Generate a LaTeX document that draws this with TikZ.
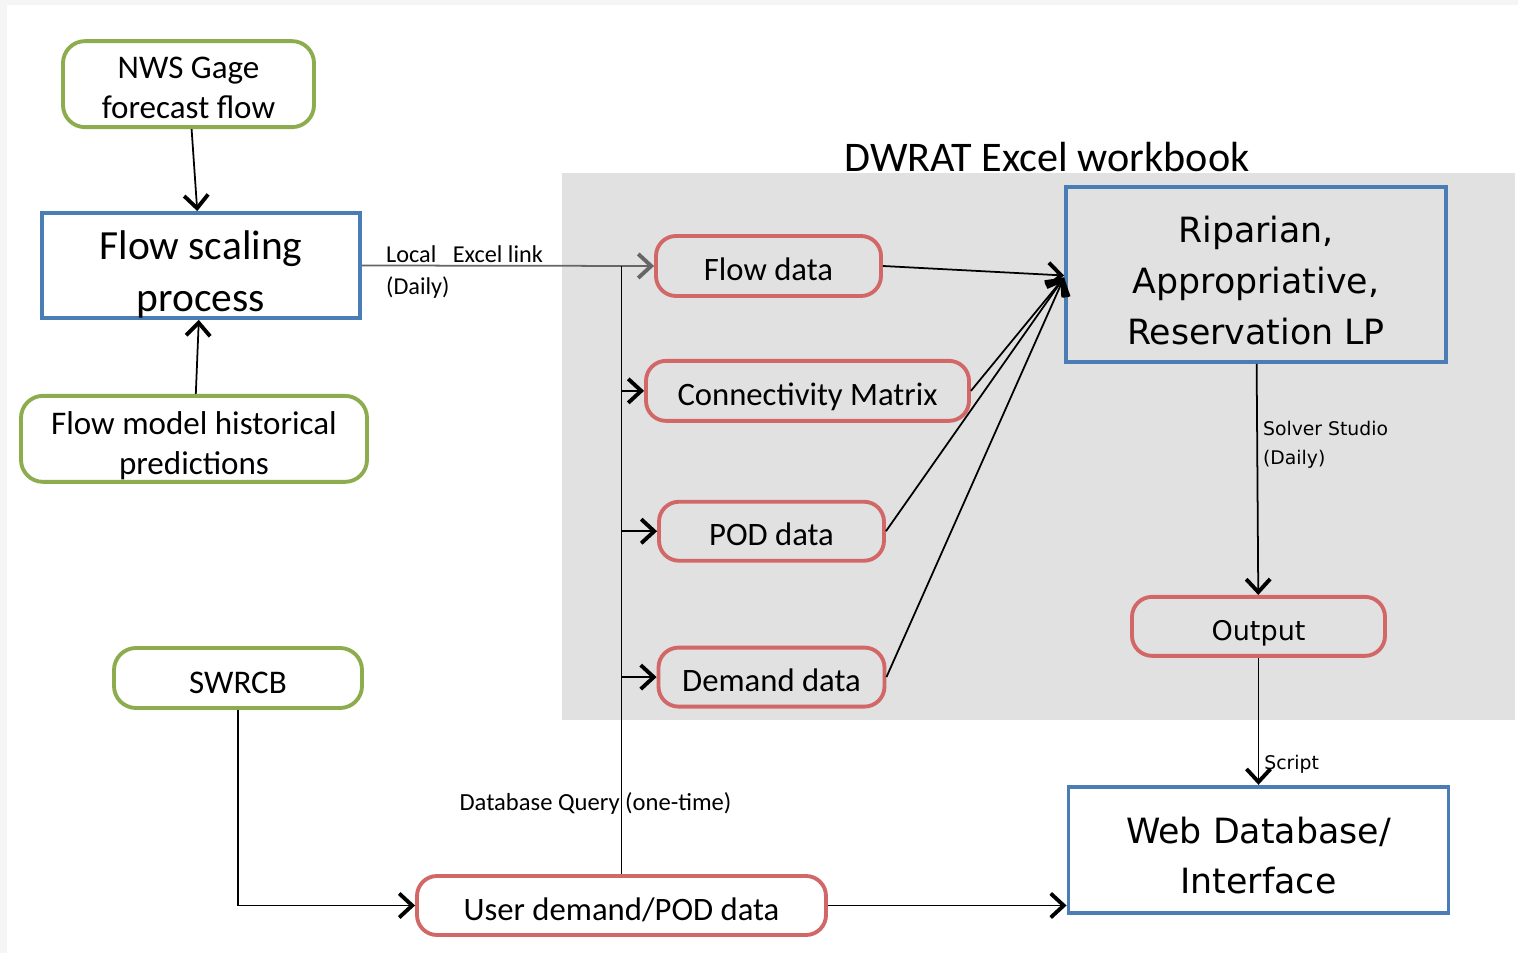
\documentclass[tikz,border=0pt]{standalone}
\usepackage{fontspec}
\setmainfont{Carlito}
\newfontfamily\widefont{DejaVu Sans}
\usetikzlibrary{positioning,calc,arrows.meta}
\definecolor{srcgreen}{HTML}{8CAC4E}
\definecolor{procblue}{HTML}{4A7CB5}
\definecolor{datared}{HTML}{D26767}
\definecolor{wbgray}{HTML}{E1E1E1}
\newcommand{\fsz}[2]{\fontsize{#1}{#2}\selectfont}

\begin{document}
\begin{tikzpicture}[>={Straight Barb[length=1.3mm,width=2.4mm,line width=1.1pt]},
  src/.style={draw=srcgreen,line width=1.1pt,rounded corners=2.2mm,fill=white,align=center,inner sep=0pt},
  proc/.style={draw=procblue,line width=1.1pt,fill=white,align=center,inner sep=0pt},
  data/.style={draw=datared,line width=1.1pt,rounded corners=2mm,fill=wbgray,align=center,inner sep=0pt,text height=8.3pt,text depth=0pt},
  link/.style={->,line width=0.5pt},
  small/.style={font=\fsz{6.9}{8.5},inner sep=0pt,align=left}]

  % page and workbook area
  \fill[gray!8] (0,0) rectangle (15.18,-9.53);
  \fill[white] (0.07,-0.05) rectangle (15.18,-9.53);
  \useasboundingbox (0,0) rectangle (15.18,-9.53);
  \fill[wbgray] (5.62,-1.73) rectangle (15.15,-7.20);
  \node[font=\fsz{12}{14}] (title) at (10.47,-1.57) {DWRAT Excel workbook};

  % left column
  \node[proc,minimum width=3.18cm,minimum height=1.05cm,font=\fsz{11.8}{14.8},text height=26pt,text depth=0pt] (fs) at (2.01,-2.655) {Flow scaling\\process};
  \node[src,minimum width=2.51cm,minimum height=0.86cm,font=\fsz{9.4}{11.4},text height=19.7pt,text depth=0pt,above=0.82cm of fs,xshift=-0.125cm] (nws) {NWS Gage\\forecast flow};
  \node[src,minimum width=3.46cm,minimum height=0.86cm,font=\fsz{9.4}{11.4},text height=20.2pt,text depth=0pt,below=0.74cm of fs,xshift=-0.07cm] (hist) {Flow model historical\\predictions};
  \node[src,minimum width=2.48cm,minimum height=0.60cm,font=\fsz{9.4}{11.4},text height=8.9pt,text depth=0pt] (swrcb) at (2.38,-6.78) {SWRCB};

  % workbook inputs
  \node[data,minimum width=2.25cm,minimum height=0.60cm,font=\fsz{9.3}{11}] (flow) at (7.685,-2.66) {Flow data};
  \node[data,minimum width=3.23cm,minimum height=0.60cm,font=\fsz{9.3}{11},below=0.61cm of flow,xshift=0.39cm] (conn) {Connectivity Matrix};
  \node[data,minimum width=2.25cm,minimum height=0.59cm,font=\fsz{9.3}{11},below=0.77cm of conn,xshift=-0.36cm] (pod) {POD data};
  \node[data,minimum width=2.26cm,minimum height=0.59cm,font=\fsz{9.3}{11},below=0.83cm of pod] (dem) {Demand data};
  \node[data,fill=white,minimum width=4.09cm,minimum height=0.59cm,font=\fsz{9.3}{11}] (ud) at (6.215,-9.055) {User demand/POD data};

  % model and outputs
  \node[proc,fill=wbgray,minimum width=3.80cm,minimum height=1.75cm,font=\widefont\fsz{9.9}{14.5},text height=39.9pt,text depth=0pt] (rip) at (12.56,-2.745) {Riparian,\\Appropriative,\\Reservation LP};
  \node[data,minimum width=2.53cm,minimum height=0.59cm,font=\widefont\fsz{7.7}{10},below=2.31cm of rip,xshift=0.025cm] (out) {Output};
  \node[proc,minimum width=3.80cm,minimum height=1.26cm,font=\widefont\fsz{9.9}{14.2},text height=24.7pt,text depth=0pt,below=1.27cm of out] (web) {Web Database/\\Interface};

  \coordinate (hub) at ([yshift=-0.03cm]rip.west);

  \draw[link] (nws) -- (fs);
  \draw[link] (hist) -- (fs);
  \draw[link,draw=gray!80!black] (fs.east) -- node[small,pos=0.08,anchor=south west,yshift=0.02cm]{Local\ \ \ Excel link} node[small,pos=0.08,anchor=north west,yshift=-0.1cm]{(Daily)} (flow.west);
  \draw[line width=0.55pt] (ud.north) -- node[small,pos=0.116,xshift=-0.26cm,font=\fsz{7}{8}]{Database Query (one-time)} (ud.north |- flow.west);
  \draw[link] (ud.north |- conn.west) -- (conn.west);
  \draw[link] (ud.north |- pod.west) -- (pod.west);
  \draw[link] (ud.north |- dem.west) -- (dem.west);
  \draw[link] (flow.east) -- ([yshift=0.02cm]hub);
  \draw[link] (conn.east) -- (hub);
  \draw[link] (pod.east) -- (hub);
  \draw[link] (dem.east) -- (hub);
  \draw[link] (rip) -- node[small,right,pos=0.35,xshift=0.05cm,font=\widefont\fsz{5.35}{8.5}]{Solver Studio\\(Daily)} (out);
  \draw[link] (out) -- node[small,pos=0.84,anchor=west,xshift=0.05cm,font=\widefont\fsz{5.35}{8}]{Script} (web);
  \draw[link] (swrcb.south) |- (ud.west);
  \draw[link] (ud.east) -- (ud.east -| web.west);
\end{tikzpicture}
\end{document}
